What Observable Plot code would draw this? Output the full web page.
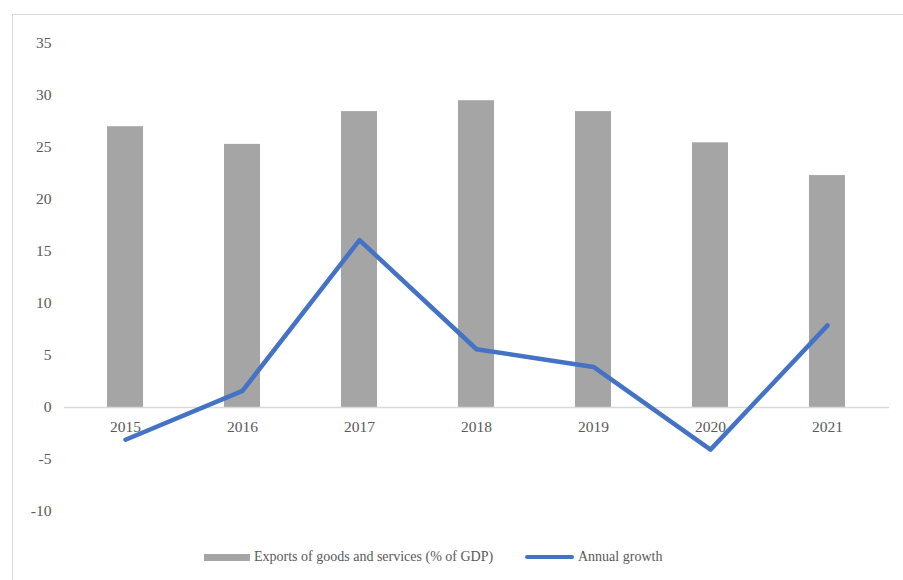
<!DOCTYPE html>
<html>
<head>
<meta charset="utf-8">
<script src="https://cdn.jsdelivr.net/npm/d3@7"></script>
<script src="https://cdn.jsdelivr.net/npm/@observablehq/plot@0.6"></script>
<style>
  html, body { margin: 0; padding: 0; background: #fff; width: 903px; height: 580px; overflow: hidden; }
  #frame { position: absolute; left: 12px; top: 14px; width: 920px; height: 600px; border: 1px solid #d9d9d9; box-sizing: border-box; }
  #chart { position: absolute; left: 0; top: 0; }
  .legend { position: absolute; top: 549px; font-family: "Liberation Serif", "Times New Roman", serif; font-size: 14px; color: #595959; display: flex; align-items: center; white-space: nowrap; }
  .sw-bar { display: inline-block; width: 46px; height: 7px; background: #a5a5a5; margin-right: 4px; }
  .sw-line { display: inline-block; width: 49px; height: 4.5px; border-radius: 3px; background: #4472c4; margin-right: 4px; }
</style>
</head>
<body>
<div id="frame"></div>
<div id="chart"></div>
<div class="legend" style="left:204px"><span class="sw-bar"></span>Exports of goods and services (% of GDP)</div>
<div class="legend" style="left:525px"><span class="sw-line"></span>Annual growth</div>
<script>
const years = ["2015", "2016", "2017", "2018", "2019", "2020", "2021"];
const exportsShare = [27.0, 25.3, 28.45, 29.5, 28.45, 25.45, 22.3];
const annualGrowth = [-3.1, 1.6, 16.1, 5.6, 3.9, -4.05, 7.9];
const yTicks = [-10, -5, 0, 5, 10, 15, 20, 25, 30, 35];

const rows = years.map((y, i) => ({year: y, exp: exportsShare[i], growth: annualGrowth[i]}));

const chart = Plot.plot({
  width: 903,
  height: 530,
  marginTop: 43,
  marginBottom: 19,
  marginLeft: 64,
  marginRight: 14,
  style: {fontFamily: '"Liberation Serif", "Times New Roman", serif', fontSize: "15.5px", color: "#595959", background: "transparent"},
  x: {domain: years, paddingInner: 0.69, paddingOuter: 0.345, axis: null},
  y: {domain: [-10, 35], axis: null},
  marks: [
    Plot.barY(rows, {x: "year", y: "exp", fill: "#a5a5a5"}),
    Plot.ruleY([0], {stroke: "#d9d9d9", strokeWidth: 1.5}),
    Plot.axisY({ticks: yTicks, tickSize: 0, tickPadding: 13, label: null, fill: "#595959", tickFormat: d => String(d)}),
    Plot.text(rows, {x: "year", y: () => 0, text: "year", dy: 20, fill: "#595959"}),
    Plot.line(rows, {x: "year", y: "growth", stroke: "#4472c4", strokeWidth: 4.5, strokeLinecap: "round", strokeLinejoin: "round"})
  ]
});
document.getElementById("chart").appendChild(chart);
</script>
</body>
</html>
